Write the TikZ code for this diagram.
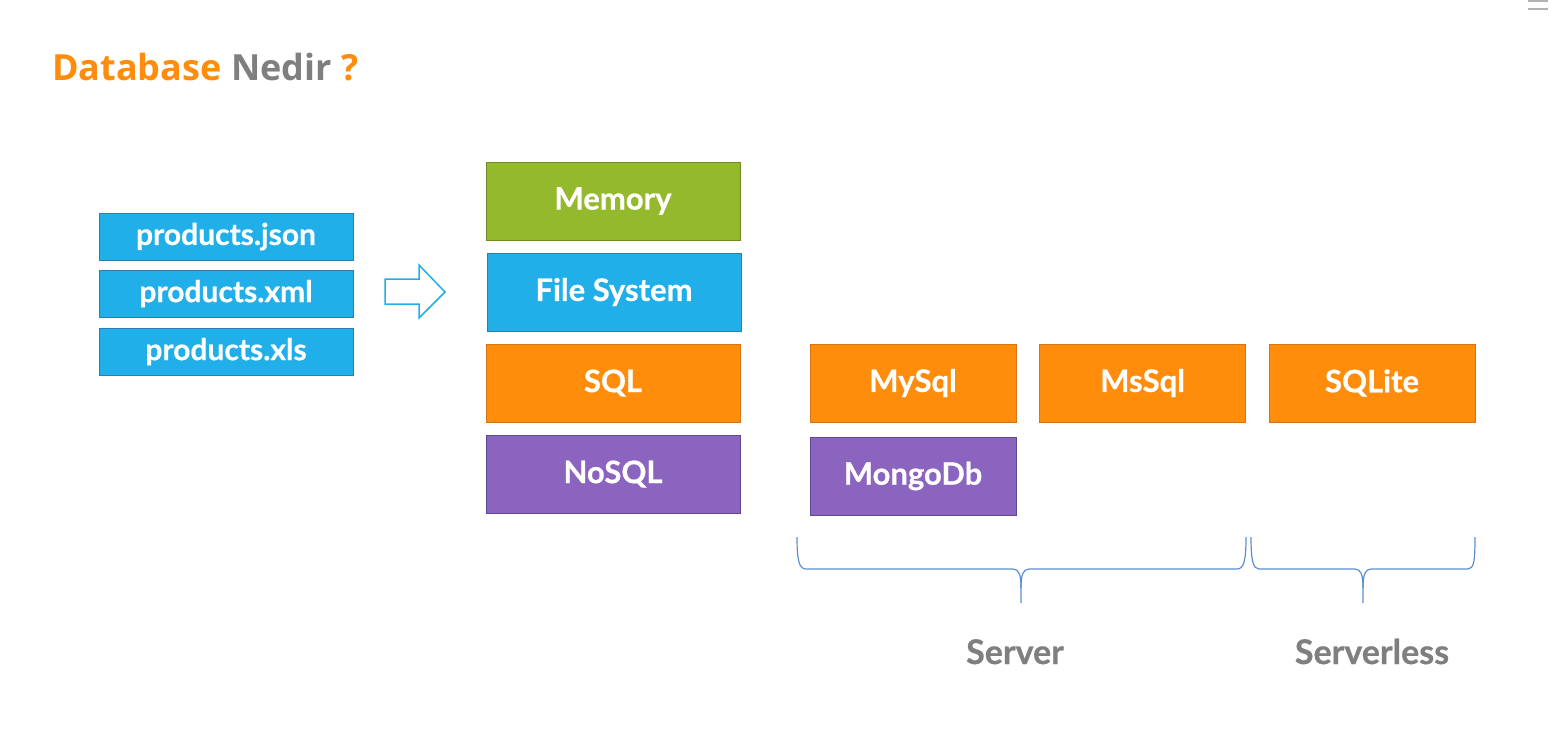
\documentclass[tikz,border=0pt]{standalone}
\usepackage{fontspec}
\setmainfont{Lato}[BoldFeatures={FakeBold=0.6}]
\newfontfamily\titlefont{Open Sans}
\definecolor{bluefill}{HTML}{20AFE8}
\definecolor{blueline}{HTML}{2B7FAE}
\definecolor{greenfill}{HTML}{95B92D}
\definecolor{greenline}{HTML}{6F8B22}
\definecolor{orangefill}{HTML}{FF8C0A}
\definecolor{orangeline}{HTML}{D37416}
\definecolor{purplefill}{HTML}{8A64BE}
\definecolor{purpleline}{HTML}{5E4893}
\definecolor{titleorange}{HTML}{FF8C0A}
\definecolor{titlegray}{HTML}{7F7F7F}
\definecolor{bracecol}{HTML}{5B8FD0}
\tikzset{
  box/.style={draw, line width=1pt, inner sep=0pt, text=white, font=\bfseries\fontsize{31}{33}\selectfont},
  filebox/.style={box, fill=bluefill, draw=blueline, minimum width=254pt, minimum height=47pt, font=\bfseries\fontsize{30}{32}\selectfont},
  bigbox/.style={box, minimum width=254pt, minimum height=78pt},
  dbbox/.style={box, minimum width=206pt, minimum height=78pt},
  bluebox/.style={fill=bluefill, draw=blueline},
  greenbox/.style={fill=greenfill, draw=greenline},
  orangebox/.style={fill=orangefill, draw=orangeline},
  purplebox/.style={fill=purplefill, draw=purpleline},
  brace/.style={draw=bracecol, line width=1.2pt},
  grouplabel/.style={text=titlegray, font=\bfseries\fontsize{34}{36}\selectfont, inner sep=0pt},
}
\begin{document}
\begin{tikzpicture}[x=1pt,y=-1pt]
\useasboundingbox (0,0) rectangle (1560,731);
\fill[white] (0,0) rectangle (1560,731);
% top-right marks
\draw[gray!60, line width=1.5pt] (1528,1) -- (1548,1);
\draw[gray!60, line width=1.5pt] (1528,9) -- (1548,9);
% title
\node[anchor=base west, inner sep=0pt, font=\titlefont\bfseries\fontsize{36}{38}\selectfont] (title) at (52,80)
  {\textcolor{titleorange}{Database} \textcolor{titlegray}{Nedir} \textcolor{titleorange}{?}};
% files
\node[filebox] (json) at (226,236.5) {products.json};
\node[filebox] (xml) at (226,293.5) {products.xml};
\node[filebox] (xls) at (226,351.5) {products.xls};
% arrow
\draw[draw=bluefill, line width=1.5pt, fill=white] (385,279) -- (419,279) -- (419,265) -- (445,292) -- (419,318) -- (419,304) -- (385,304) -- cycle;
% storage column
\node[bigbox, greenbox] (memory) at (613,201) {Memory};
\node[bigbox, bluebox] (fs) at (614,292) {File System};
\node[bigbox, orangebox] (sql) at (613,383) {SQL};
\node[bigbox, purplebox] (nosql) at (613,474) {NoSQL};
% databases
\node[dbbox, orangebox] (mysql) at (913,383) {MySql};
\node[dbbox, orangebox] (mssql) at (1142.5,383) {MsSql};
\node[dbbox, orangebox] (sqlite) at (1372,383) {SQLite};
\node[dbbox, purplebox] (mongo) at (913,476) {MongoDb};
% braces
\coordinate (sL) at (797,537);
\coordinate (sR) at (1246,537);
\coordinate (sT) at (1021,603);
\coordinate (lL) at (1251,537);
\coordinate (lR) at (1475,537);
\coordinate (lT) at (1363,603);
\draw[brace] (sL) .. controls (797,560) and (799,569) .. (806,569) -- (1013,569)
  .. controls (1019,569) and (1021,575) .. (1021,588) -- (sT);
\draw[brace] (1021,588) .. controls (1021,575) and (1023,569) .. (1029,569) -- (1237,569)
  .. controls (1244,569) and (1246,560) .. (sR);
\draw[brace] (lL) .. controls (1251,560) and (1253,569) .. (1259,569) -- (1355,569)
  .. controls (1361,569) and (1363,575) .. (1363,588) -- (lT);
\draw[brace] (1363,588) .. controls (1363,575) and (1365,569) .. (1371,569) -- (1468,569)
  .. controls (1474,569) and (1475,560) .. (lR);
% labels
\node[grouplabel, anchor=base] (server) at (1015,664) {Server};
\node[grouplabel, anchor=base] (serverless) at (1372,664) {Serverless};
\end{tikzpicture}
\end{document}
